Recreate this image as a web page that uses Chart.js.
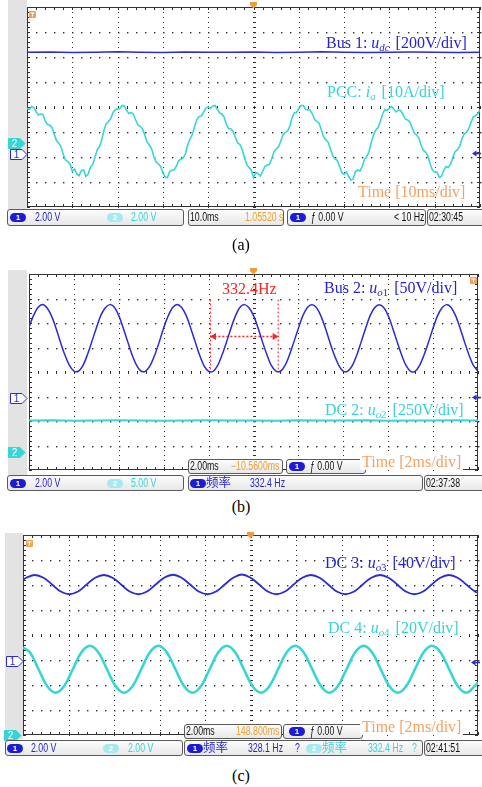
<!DOCTYPE html>
<html><head><meta charset="utf-8">
<script src="https://cdn.jsdelivr.net/npm/chart.js@4.4.1/dist/chart.umd.min.js"></script>
<style>
html,body{margin:0;padding:0;background:#fff;}
#page{position:relative;width:482px;height:787px;overflow:hidden;background:#fff;}
canvas{position:absolute;}
.strip{position:absolute;background:#e3e3e3;}
.ann{position:absolute;font-family:"Liberation Serif","Times New Roman",serif;font-size:16px;line-height:16px;white-space:nowrap;}
.ann sub{font-size:0.68em;vertical-align:-0.3em;line-height:0;padding-right:2px;}
.box{position:absolute;box-sizing:border-box;border:1px solid #5a5a5a;border-radius:3px;background:linear-gradient(#fcfcfc,#e8e8e8);}
.st{position:absolute;font-family:"Liberation Sans",Arial,sans-serif;font-size:12px;white-space:nowrap;transform-origin:0 50%;transform:scaleX(0.73);}
.cjk{position:absolute;font-family:"Noto Sans CJK SC",sans-serif;font-size:12.5px;white-space:nowrap;}
.pill{position:absolute;height:9px;width:16px;border-radius:5px;color:#fff;font:bold 8px/9px "Liberation Sans",Arial,sans-serif;text-align:center;}
.cap{position:absolute;font-family:"Liberation Serif","Times New Roman",serif;font-size:16px;line-height:16px;width:60px;text-align:center;}
svg{position:absolute;overflow:visible;}
</style></head>
<body><div id="page"></div>
<script>
// ---------------- data (values in oscilloscope divisions) ----------------
const xDivs = [0,1,2,3,4,5,6,7,8,9,10];
const yDivs = [-4,-3,-2,-1,0,1,2,3,4];

// (a) Bus 1 dc voltage, sampled every 0.5 div
const busA = [2.19,2.20,2.18,2.19,2.21,2.19,2.18,2.20,2.19,2.19,2.20,2.18,2.19,2.21,2.19,2.18,2.19,2.20,2.19,2.18,2.19];
// (a) PCC current, sampled every 0.05 div
const pccA = [
  -0.05,-0.10,0.02,-0.02,-0.18,-0.32,-0.28,-0.30,-0.55,-0.70,-0.72,-0.82,-1.08,-1.34,-1.45,-1.58,-1.90,-2.12,-2.18,-2.28,
  -2.58,-2.48,-2.68,-2.75,-2.55,-2.52,-2.78,-2.68,-2.42,-2.30,-2.02,-1.70,-1.58,-1.32,-0.92,-0.66,-0.58,-0.46,-0.22,-0.10,
  -0.08,-0.06,0.06,0.04,-0.14,-0.26,-0.22,-0.30,-0.52,-0.72,-0.78,-0.88,-1.12,-1.40,-1.52,-1.66,-1.98,-2.20,-2.28,-2.38,
  -2.64,-2.80,-2.82,-2.58,-2.52,-2.52,-2.36,-2.14,-2.08,-2.04,-1.86,-1.50,-1.28,-1.10,-0.78,-0.50,-0.38,-0.36,-0.20,-0.04,
  0.00,-0.06,0.04,0.06,-0.08,-0.24,-0.28,-0.40,-0.68,-0.86,-0.88,-0.98,-1.22,-1.44,-1.50,-1.70,-2.02,-2.30,-2.42,-2.52,
  -2.82,-2.62,-2.66,-2.76,-2.58,-2.38,-2.32,-2.30,-2.08,-1.80,-1.68,-1.60,-1.38,-1.12,-1.02,-0.96,-0.78,-0.44,-0.24,-0.22,
  -0.06,0.06,0.06,-0.10,-0.12,-0.12,-0.28,-0.50,-0.58,-0.66,-0.92,-1.20,-1.32,-1.42,-1.68,-1.96,-2.08,-2.14,-2.38,-2.62,
  -2.70,-2.60,-2.78,-2.92,-2.88,-2.58,-2.52,-2.56,-2.38,-2.10,-1.98,-1.78,-1.42,-1.10,-0.92,-0.82,-0.58,-0.28,-0.10,-0.14,
  -0.04,0.02,-0.10,-0.20,-0.12,-0.14,-0.30,-0.48,-0.52,-0.60,-0.82,-1.04,-1.12,-1.24,-1.52,-1.74,-1.80,-1.96,-2.28,-2.52,
  -2.60,-2.60,-2.82,-2.78,-2.52,-2.38,-2.42,-2.30,-2.02,-1.78,-1.72,-1.58,-1.28,-1.08,-1.02,-0.88,-0.62,-0.40,-0.34,-0.28,
  -0.10];

// (b) Bus 2 ac voltage, sampled every 0.1 div
const busB = [1.84,2.30,2.63,2.76,2.62,2.29,1.80,1.22,0.69,0.27,0.04,0.03,0.26,0.70,1.24,
  1.80,2.31,2.62,2.75,2.64,2.30,1.79,1.23,0.68,0.26,0.03,0.04,0.27,0.69,1.22,
  1.81,2.29,2.63,2.76,2.63,2.31,1.80,1.24,0.69,0.25,0.03,0.03,0.26,0.70,1.23,
  1.80,2.30,2.64,2.75,2.62,2.30,1.81,1.23,0.70,0.26,0.04,0.03,0.26,0.69,1.23,
  1.79,2.30,2.63,2.74,2.63,2.29,1.80,1.22,0.69,0.27,0.03,0.04,0.26,0.69,1.24,
  1.80,2.31,2.63,2.75,2.63,2.30,1.79,1.23,0.69,0.26,0.03,0.03,0.27,0.70,1.23,
  1.80,2.30,2.62,2.75,2.63,2.30,1.80,1.23,0.69,0.26,0.04];
// (b) DC 2 voltage, sampled every 0.5 div
const dcB = [-1.98,-1.97,-1.99,-1.98,-1.97,-1.98,-1.99,-1.98,-1.97,-1.98,-1.98,-1.99,-1.97,-1.98,-1.98,-1.97,-1.99,-1.98,-1.98,-1.97,-1.98];
// (b) frequency cursor
const cursorX = [4.04,5.55];
const cursorTop = 2.96, cursorLevel = 1.45;

// (c) DC 3 voltage (time in div, value in div)
const dc3T = [0,0.070,0.260,0.450,0.639,0.829,1.019,1.208,1.398,1.587,1.777,1.967,2.156,2.346,2.536,2.725,2.915,3.104,3.294,3.484,3.673,3.863,4.053,4.242,4.432,4.621,4.811,5.001,5.190,5.380,5.570,5.759,5.949,6.138,6.328,6.518,6.707,6.897,7.087,7.276,7.466,7.655,7.845,8.035,8.224,8.414,8.604,8.793,8.983,9.172,9.362,9.552,9.741,9.931,10.0];
const dc3V = [2.20,2.29,2.40,2.29,2.02,1.74,1.63,1.74,2.02,2.29,2.40,2.29,2.02,1.74,1.63,1.74,2.02,2.29,2.41,2.29,2.02,1.74,1.63,1.74,2.02,2.29,2.42,2.29,2.02,1.74,1.63,1.74,2.02,2.29,2.40,2.29,2.02,1.74,1.63,1.74,2.02,2.29,2.40,2.29,2.02,1.74,1.63,1.74,2.02,2.29,2.40,2.29,2.02,1.74,1.68];
// (c) DC 4 voltage
const dc4T = [0,0.154,0.342,0.530,0.718,0.906,1.094,1.282,1.470,1.658,1.846,2.034,2.222,2.410,2.598,2.786,2.974,3.162,3.350,3.538,3.726,3.914,4.102,4.290,4.478,4.666,4.854,5.042,5.230,5.418,5.606,5.794,5.982,6.170,6.358,6.546,6.734,6.922,7.110,7.298,7.486,7.674,7.862,8.050,8.238,8.426,8.614,8.802,8.990,9.178,9.366,9.554,9.742,9.930,10.0];
const dc4V = [-0.50,-0.70,-1.37,-2.04,-2.31,-2.04,-1.37,-0.70,-0.43,-0.70,-1.37,-2.04,-2.31,-2.04,-1.37,-0.70,-0.43,-0.70,-1.37,-2.04,-2.31,-2.04,-1.37,-0.70,-0.43,-0.70,-1.37,-2.04,-2.31,-2.04,-1.37,-0.70,-0.43,-0.70,-1.37,-2.04,-2.31,-2.04,-1.37,-0.70,-0.43,-0.70,-1.37,-2.04,-2.31,-2.04,-1.37,-0.70,-0.43,-0.70,-1.37,-2.04,-2.31,-2.04,-1.90];

// ---------------- colours ----------------
const BLUE = '#2b2bd6', CYAN = '#36d6d6', ORANGE = '#f4a262', RED = '#ff2222';
const BLUE_T = '#2424d4', CYAN_T = '#34d4d8';

const page = document.getElementById('page');
function uniform(vals, step){ return vals.map((v,i)=>({x:i*step, y:v})); }
function paired(t, v){ return t.map((x,i)=>({x, y:v[i]})); }

// oscilloscope graticule drawn from the chart's scales
const scopeGrid = {
  id:'scopeGrid',
  beforeDatasetsDraw(chart){
    const {ctx, chartArea:a, scales:{x, y}} = chart;
    ctx.save();
    ctx.fillStyle = '#2e2e2e';
    const minor = [];
    for (let k=0;k<=40;k++) minor.push(-4 + k*0.2);
    const minorX = [];
    for (let k=0;k<=50;k++) minorX.push(k*0.2);
    xDivs.forEach(d=>{
      if (d===0 || d===10) return;
      const px = Math.round(x.getPixelForValue(d));
      minor.forEach(m=>{
        const py = Math.round(y.getPixelForValue(m));
        if (d===5) ctx.fillRect(px-1, py, 3, 1); else ctx.fillRect(px, py, 1, 1);
      });
    });
    yDivs.forEach(d=>{
      if (d===-4 || d===4) return;
      const py = Math.round(y.getPixelForValue(d));
      minorX.forEach(m=>{
        const px = Math.round(x.getPixelForValue(m));
        if (d===0) ctx.fillRect(px, py-1, 1, 3); else ctx.fillRect(px, py, 1.4, 1.4);
      });
    });
    // edge ticks
    minorX.forEach(m=>{
      const px = Math.round(x.getPixelForValue(m));
      ctx.fillRect(px, Math.round(a.top), 1, 3);
      ctx.fillRect(px, Math.round(a.bottom)-3, 1, 3);
    });
    minor.forEach(m=>{
      const py = Math.round(y.getPixelForValue(m));
      ctx.fillRect(Math.round(a.left), py, 3, 1);
      ctx.fillRect(Math.round(a.right)-3, py, 3, 1);
    });
    ctx.strokeStyle = '#333';
    ctx.lineWidth = 1;
    ctx.strokeRect(Math.round(a.left)+0.5, Math.round(a.top)+0.5, Math.round(a.width)-1, Math.round(a.height)-1);
    ctx.restore();
  }
};

function makeScope(L, T, W, H, datasets){
  const c = document.createElement('canvas');
  c.width = W+4; c.height = H+4;
  c.style.left = (L-2)+'px'; c.style.top = (T-2)+'px';
  c.style.width = (W+4)+'px'; c.style.height = (H+4)+'px';
  page.appendChild(c);
  return new Chart(c, {
    type:'line',
    data:{datasets},
    options:{
      responsive:false, animation:false, devicePixelRatio:1,
      layout:{padding:2},
      plugins:{legend:{display:false}, tooltip:{enabled:false}},
      elements:{point:{radius:0}},
      scales:{
        x:{type:'linear', min:0, max:10, display:false},
        y:{type:'linear', min:-4, max:4, display:false}
      }
    },
    plugins:[scopeGrid]
  });
}

function el(cls, css, html){
  const d = document.createElement('div');
  d.className = cls;
  Object.assign(d.style, css);
  if (html !== undefined) d.innerHTML = html;
  page.appendChild(d);
  return d;
}
const px = v => v+'px';
function strip(x,y,w,h){ el('strip',{left:px(x),top:px(y),width:px(w),height:px(h)}); }
function box(x,y,w,h){ el('box',{left:px(x),top:px(y),width:px(w),height:px(h)}); }
function st(x,y,h,text,color){ el('st',{left:px(x),top:px(y),height:px(h),lineHeight:px(h),color}, text); }
function cjk(x,y,h,text,color){ el('cjk',{left:px(x),top:px(y-1),height:px(h),lineHeight:px(h),color}, text); }
function pill(x,yc,n,bg){ el('pill',{left:px(x),top:px(yc-4.5),background:bg}, n); }
function ann(x,base,html,color,bg){
  const d = el('ann',{left:px(x),top:px(base-13.4),color}, html);
  if (bg){ d.style.background='#fff'; d.style.padding='0 2px'; d.style.marginLeft='-2px'; }
}
function cap(xc,base,text){ el('cap',{left:px(xc-30),top:px(base-13.4)}, text); }
function svg(x,y,w,h,inner){
  const ns='http://www.w3.org/2000/svg';
  const s=document.createElementNS(ns,'svg');
  s.setAttribute('width',w); s.setAttribute('height',h);
  s.style.left=px(x); s.style.top=px(y);
  s.innerHTML=inner; page.appendChild(s);
}
function tag(x,yc,n,filled,color){
  svg(x,yc-5.5,18,11,
   `<polygon points="0.5,0.5 12,0.5 17,5.5 12,10.5 0.5,10.5" fill="${filled?color:'#fff'}" stroke="${color}" stroke-width="1"/>`+
   `<text x="6.5" y="9" font-family="Liberation Sans,Arial" font-size="10" text-anchor="middle" fill="${filled?'#fff':color}">${n}</text>`);
}
function rightArrow(x,yc){ svg(x,yc-3.5,9,7,`<polygon points="0,3.5 4.5,0.5 4.5,6.5" fill="${BLUE}"/><rect x="4" y="2.7" width="5" height="1.6" fill="${BLUE}"/>`); }
function topMarker(xc,y){ svg(xc-3.5,y,7,7,`<polygon points="0,0 7,0 7,3 3.5,6.5 0,3" fill="#f29a3a"/>`); }
function tIcon(x,y){ svg(x,y,7,7,`<rect x="0" y="0" width="7" height="7" rx="1" fill="#f4a055"/><rect x="1.5" y="1.5" width="4" height="1" fill="#fff"/><rect x="3" y="1.5" width="1" height="4" fill="#fff"/>`); }

// ---------------- panel (a) ----------------
strip(8,0,19,209);
makeScope(27,7,453,200,[
  {data:uniform(pccA,0.05), borderColor:CYAN, borderWidth:1.6, tension:0},
  {data:uniform(busA,0.5), borderColor:BLUE, borderWidth:1.5, tension:0}
]);
tIcon(29,11); topMarker(253,2);
tag(8,143,'2',true,CYAN); tag(10,154,'1',false,BLUE); rightArrow(472,153);
ann(326,48,'Bus 1: <i>u</i><sub><i>dc</i></sub> [200V/div]',BLUE_T);
ann(327,97,'PCC: <i>i</i><sub><i>a</i></sub> [10A/div]',CYAN_T);
ann(358,197,'Time [10ms/div]',ORANGE);
box(7,209,177,17); box(188,209,96,17); box(287,209,139,17); box(427,209,60,17);
pill(10,217.5,'1','#1c1cd6'); st(35,209,17,'2.00 V',BLUE_T);
pill(107,217.5,'2','#a4eaee'); st(131,209,17,'2.00 V',CYAN_T);
st(190,209,17,'10.0ms','#111'); st(245,209,17,'1.05520 s','#f0a030');
pill(290,217.5,'1','#1c1cd6'); st(311,209,17,'ƒ 0.00 V','#111'); st(394,209,17,'&lt; 10 Hz','#111');
st(429,209,17,'02:30:45','#111');
cap(241,250,'(a)');

// ---------------- panel (b) ----------------
strip(8,270,19,205);
makeScope(27,272,453,200,[
  {data:uniform(busB,0.1), borderColor:BLUE, borderWidth:1.5, tension:0.3},
  {data:uniform(dcB,0.5), borderColor:CYAN, borderWidth:2, tension:0},
  {data:[{x:cursorX[0],y:cursorTop},{x:cursorX[0],y:0}], borderColor:RED, borderWidth:1, borderDash:[2,2]},
  {data:[{x:cursorX[1],y:cursorTop},{x:cursorX[1],y:0}], borderColor:RED, borderWidth:1, borderDash:[2,2]},
  {data:[{x:cursorX[0],y:cursorLevel},{x:cursorX[1],y:cursorLevel}], borderColor:RED, borderWidth:1.5, borderDash:[2,2]},
  {data:[{x:cursorX[0]+0.08,y:cursorLevel},{x:cursorX[1]-0.08,y:cursorLevel}], showLine:false,
   pointStyle:'triangle', pointRadius:4, pointRotation:[-90,90], pointBackgroundColor:RED, pointBorderColor:RED, pointBorderWidth:0}
]);
tIcon(470,277); topMarker(253,268);
tag(10,398,'1',false,BLUE); tag(8,452,'2',true,CYAN); rightArrow(472,397);
ann(222,294,'332.4Hz',RED);
ann(324,293,'Bus 2: <i>u</i><sub><i>o</i>1</sub> [50V/div]',BLUE_T);
ann(325,415,'DC 2: <i>u</i><sub><i>o</i>2</sub> [250V/div]',CYAN_T);
box(188,459,95,15); st(190,459,15,'2.00ms','#111'); st(231,459,15,'−10.5600ms','#f0a030');
box(286,459,80,15); pill(289,466.5,'1','#1c1cd6'); st(310,459,15,'ƒ 0.00 V','#111');
ann(362,467,'Time [2ms/div]',ORANGE,true);
box(7,475,177,16); box(188,475,235,16); box(424,475,62,16);
pill(10,483,'1','#1c1cd6'); st(35,475,16,'2.00 V',BLUE_T);
pill(107,483,'2','#a4eaee'); st(131,475,16,'5.00 V',CYAN_T);
pill(190,483,'1','#1c1cd6'); cjk(206,475,16,'频率',BLUE_T); st(250,475,16,'332.4 Hz',BLUE_T);
st(426,475,16,'02:37:38','#111');
cap(241,512,'(b)');

// ---------------- panel (c) ----------------
strip(5,533,18,206);
makeScope(23,535,455,200,[
  {data:paired(dc3T,dc3V), borderColor:BLUE, borderWidth:1.8, tension:0.4},
  {data:paired(dc4T,dc4V), borderColor:CYAN, borderWidth:2.6, tension:0.4}
]);
tIcon(26,540); topMarker(250,532);
tag(6,661,'1',false,BLUE); tag(4,735,'2',true,CYAN); rightArrow(471,662);
ann(325,568,'DC 3: <i>u</i><sub><i>o</i>3</sub> [40V/div]',BLUE_T);
ann(328,633,'DC 4: <i>u</i><sub><i>o</i>4</sub> [20V/div]',CYAN_T,true);
box(184,724,98,15); st(186,724,15,'2.00ms','#111'); st(236,724,15,'148.800ms','#f0a030');
box(283,724,80,15); pill(289,731.5,'1','#1c1cd6'); st(310,724,15,'ƒ 0.00 V','#111');
ann(362,732,'Time [2ms/div]',ORANGE,true);
box(5,740,178,16); box(184,740,239,16); box(424,740,62,16);
pill(7,748,'1','#1c1cd6'); st(31,740,16,'2.00 V',BLUE_T);
pill(103,748,'2','#a4eaee'); st(128,740,16,'2.00 V',CYAN_T);
pill(187,748,'1','#1c1cd6'); cjk(203,740,16,'频率',BLUE_T); st(248,740,16,'328.1 Hz',BLUE_T); st(295,740,16,'?',BLUE_T);
pill(306,748,'2','#a4eaee'); cjk(322,740,16,'频率',CYAN_T); st(368,740,16,'332.4 Hz',CYAN_T); st(412,740,16,'?',CYAN_T);
st(426,740,16,'02:41:51','#111');
cap(241,781,'(c)');
</script>
</body></html>
